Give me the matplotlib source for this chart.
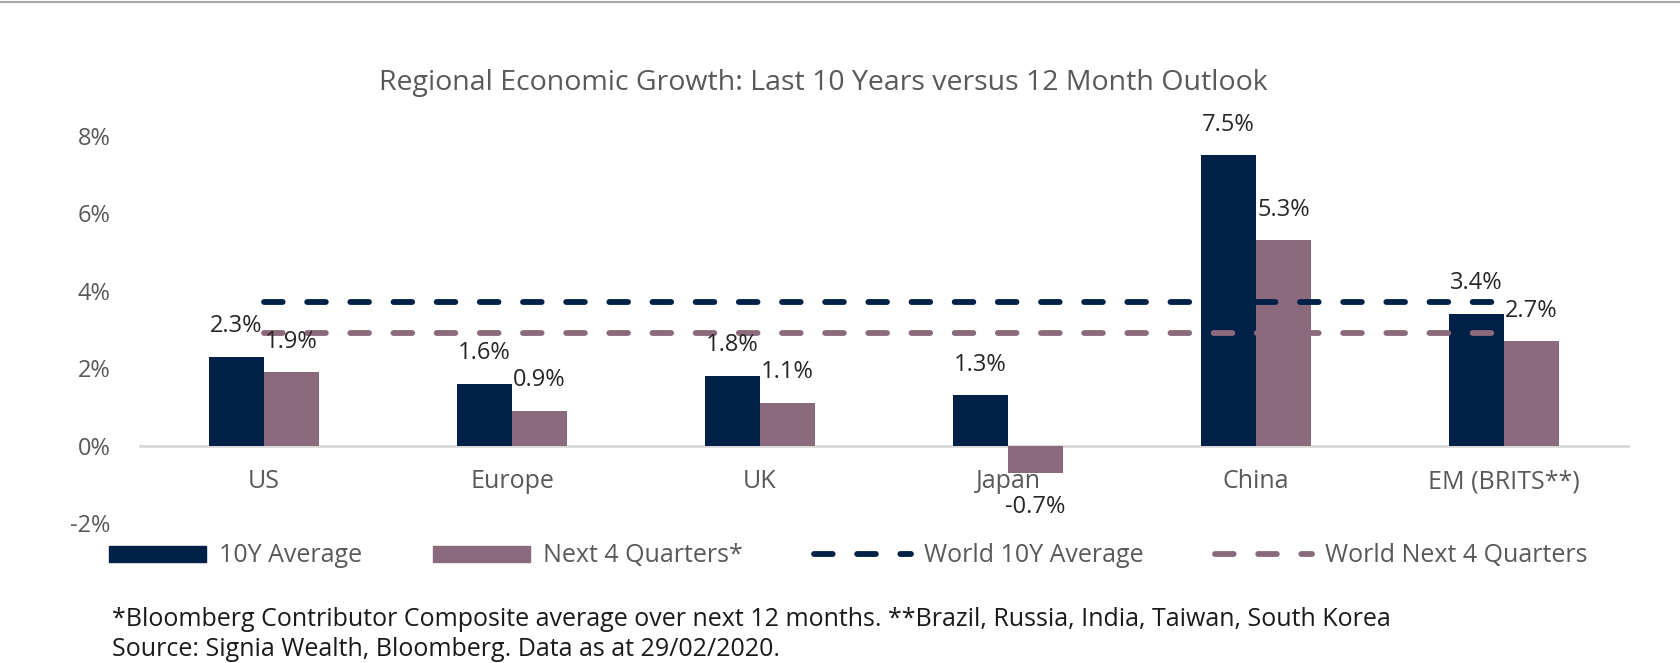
import matplotlib
matplotlib.use("Agg")
import matplotlib.pyplot as plt
import numpy as np
from matplotlib.patches import Patch
from matplotlib.lines import Line2D

# chart data
regions = ["US", "Europe", "UK", "Japan", "China", "EM (BRITS**)"]
avg_10y = [2.3, 1.6, 1.8, 1.3, 7.5, 3.4]
next_4q = [1.9, 0.9, 1.1, -0.7, 5.3, 2.7]
world_10y = 3.7
world_4q = 2.9
yticks = [-2, 0, 2, 4, 6, 8]

navy = "#002147"
mauve = "#8B6A7D"
grey_txt = "#595959"

plt.rcParams["font.family"] = ["Open Sans", "DejaVu Sans"]

fig = plt.figure(figsize=(16.81, 6.63), dpi=100)
ax = fig.add_axes([140 / 1681, 1 - 523 / 663, 1488 / 1681, 387 / 663])

x = np.arange(len(regions))
w = 0.222
b1 = ax.bar(x - w / 2, avg_10y, w, color=navy, zorder=2)
b2 = ax.bar(x + w / 2, next_4q, w, color=mauve, zorder=2)

dash = (3.2, 4.2)
lw = 4.2
ax.plot([x[0], x[-1]], [world_10y, world_10y], color=navy, lw=lw,
        linestyle=(0, dash), dash_capstyle="round", zorder=3)
ax.plot([x[0], x[-1]], [world_4q, world_4q], color=mauve, lw=lw,
        linestyle=(0, dash), dash_capstyle="round", zorder=3)

# data labels
for bars, vals in [(b1, avg_10y), (b2, next_4q)]:
    for r, v in zip(bars, vals):
        off = 22 if v >= 0 else -25
        ax.annotate(f"{v:.1f}%", (r.get_x() + r.get_width() / 2, v),
                    xytext=(0, off), textcoords="offset points",
                    ha="center", va="center", fontsize=17, color="#262626")

ax.set_xlim(-0.5, 5.5)
ax.set_ylim(-2, 8)
ax.set_yticks(yticks)
ax.set_yticklabels([f"{t}%" for t in yticks])
ax.set_xticks(x)
ax.set_xticklabels(regions)
ax.tick_params(axis="y", length=0, pad=21, labelsize=17, labelcolor=grey_txt)
ax.tick_params(axis="x", length=0, pad=17, labelsize=18, labelcolor=grey_txt)
for s in ["top", "right", "left"]:
    ax.spines[s].set_visible(False)
ax.spines["bottom"].set_position(("data", 0))
ax.spines["bottom"].set_color("#D9D9D9")
ax.spines["bottom"].set_linewidth(2)
ax.spines["bottom"].set_zorder(1)

fig.text(823 / 1681, 1 - 83 / 663,
         "Regional Economic Growth: Last 10 Years versus 12 Month Outlook",
         ha="center", va="center", fontsize=20.5, color=grey_txt)

handles = [
    Patch(color=navy),
    Patch(color=mauve),
    Line2D([], [], color=navy, lw=lw, linestyle=(0, dash), dash_capstyle="round"),
    Line2D([], [], color=mauve, lw=lw, linestyle=(0, dash), dash_capstyle="round"),
]
labels = ["10Y Average", "Next 4 Quarters*", "World 10Y Average", "World Next 4 Quarters"]
leg = fig.legend(handles, labels, loc="center", bbox_to_anchor=(848 / 1681, 1 - 556 / 663),
                 ncol=4, frameon=False, fontsize=18, handlelength=3.9, handleheight=0.6,
                 handletextpad=0.5, columnspacing=2.85)
for t in leg.get_texts():
    t.set_color(grey_txt)

fig.text(112 / 1681, 1 - 619 / 663,
         "*Bloomberg Contributor Composite average over next 12 months. **Brazil, Russia, India, Taiwan, South Korea",
         ha="left", va="center", fontsize=18, color="#1a1a1a")
fig.text(112 / 1681, 1 - 649 / 663,
         "Source: Signia Wealth, Bloomberg. Data as at 29/02/2020.",
         ha="left", va="center", fontsize=18, color="#1a1a1a")

fig.add_artist(Line2D([0, 1], [1 - 2 / 663, 1 - 2 / 663], transform=fig.transFigure,
                      color="#A6A6A6", lw=1.5))

fig.savefig("out.png", dpi=100)
